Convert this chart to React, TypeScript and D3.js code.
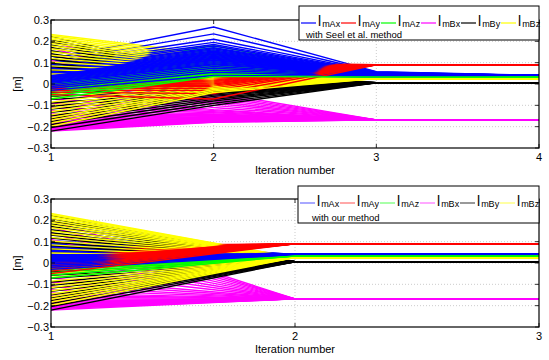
import React from 'react';
import * as d3 from 'd3';

// series order as in the legend
const seriesNames = ['mAx', 'mAy', 'mAz', 'mBx', 'mBy', 'mBz'];
const seriesColors = ['#0000ff', '#ff0000', '#00ff00', '#ff00ff', '#000000', '#ffff00'];
const legendColorsOurs = ['#6f6fff', '#ff6f6f', '#6fff6f', '#ff6fff', '#555555', '#ffff66'];

// converged values
const finalValues = [0.04, 0.09, 0.033, -0.168, 0.006, 0.025];

// starting values (iteration 1), shared by both runs
const initBlue = [0.118, 0.105, 0.097, 0.09, 0.084, 0.078, 0.072, 0.068, 0.063, 0.059, 0.055, 0.051, 0.048, 0.045, 0.042, 0.039, 0.036, 0.033, 0.03, 0.027, 0.023, 0.02, 0.016, 0.012, 0.008, 0.003, -0.004, -0.012, -0.02, -0.03];
const initRed = [0.08, 0.074, 0.068, 0.063, 0.058, 0.054, 0.05, 0.046, 0.043, 0.04, 0.037, 0.034, 0.031, 0.028, 0.025, 0.022, 0.019, 0.016, 0.013, 0.01, 0.006, 0.002, -0.002, -0.006, -0.011, -0.016, -0.022, -0.03, -0.038, -0.05];
const initGreen = [0.1, 0.092, 0.085, 0.079, 0.073, 0.068, 0.063, 0.058, 0.054, 0.05, 0.046, 0.042, 0.038, 0.034, 0.03, 0.026, 0.022, 0.018, 0.014, 0.01, 0.005, 0.0, -0.005, -0.011, -0.018, -0.026, -0.035, -0.045, -0.056, -0.07];
const initMagenta = [0.2, 0.17, 0.14, 0.11, 0.08, 0.05, 0.02, -0.01, -0.04, -0.07, -0.09, -0.11, -0.125, -0.14, -0.15, -0.16, -0.168, -0.175, -0.18, -0.185, -0.19, -0.194, -0.197, -0.2, -0.203, -0.206, -0.209, -0.212, -0.215, -0.22];
const initBlack = [0.222, 0.208, 0.197, 0.183, 0.171, 0.156, 0.142, 0.131, 0.117, 0.098, 0.082, 0.066, 0.047, 0.029, 0.012, -0.006, -0.024, -0.041, -0.058, -0.072, -0.089, -0.104, -0.118, -0.133, -0.149, -0.162, -0.176, -0.19, -0.204, -0.221];
const initYellow = [0.232, 0.226, 0.218, 0.21, 0.2, 0.19, 0.178, 0.165, 0.15, 0.135, 0.12, 0.103, 0.085, 0.066, 0.047, 0.028, 0.008, -0.012, -0.032, -0.05, -0.068, -0.085, -0.1, -0.115, -0.13, -0.145, -0.158, -0.17, -0.183, -0.198];

// Seel et al.: iteration 2 values
const seelBlue2 = [0.267, 0.235, 0.21, 0.195, 0.185, 0.178, 0.17, 0.165, 0.16, 0.155, 0.15, 0.146, 0.142, 0.138, 0.134, 0.13, 0.126, 0.122, 0.118, 0.114, 0.11, 0.105, 0.1, 0.095, 0.09, 0.082, 0.074, 0.065, 0.055, 0.04];
const seelRed2 = [0.1, 0.095, 0.09, 0.085, 0.08, 0.075, 0.07, 0.066, 0.062, 0.058, 0.054, 0.05, 0.046, 0.042, 0.038, 0.034, 0.03, 0.026, 0.022, 0.018, 0.014, 0.01, 0.005, 0.0, -0.006, -0.012, -0.02, -0.03, -0.045, -0.07];
const seelGreen2 = [0.18, 0.17, 0.16, 0.152, 0.145, 0.139, 0.133, 0.128, 0.123, 0.118, 0.113, 0.108, 0.104, 0.1, 0.096, 0.092, 0.088, 0.084, 0.08, 0.076, 0.072, 0.068, 0.064, 0.06, 0.056, 0.052, 0.048, 0.044, 0.04, 0.035];
const seelMagenta2 = [-0.04, -0.05, -0.06, -0.07, -0.08, -0.09, -0.1, -0.11, -0.12, -0.125, -0.13, -0.135, -0.14, -0.143, -0.146, -0.149, -0.152, -0.155, -0.158, -0.16, -0.162, -0.164, -0.166, -0.168, -0.17, -0.172, -0.174, -0.176, -0.178, -0.18];
const seelBlack2 = [0.05, 0.045, 0.04, 0.036, 0.032, 0.028, 0.024, 0.02, 0.016, 0.012, 0.008, 0.004, 0.0, -0.004, -0.008, -0.012, -0.016, -0.02, -0.025, -0.03, -0.035, -0.04, -0.046, -0.052, -0.058, -0.065, -0.072, -0.08, -0.09, -0.1];
const seelYellow2 = [0.14, 0.13, 0.12, 0.112, 0.104, 0.096, 0.089, 0.082, 0.075, 0.069, 0.063, 0.057, 0.051, 0.046, 0.041, 0.036, 0.031, 0.026, 0.021, 0.016, 0.011, 0.006, 0.001, -0.004, -0.009, -0.014, -0.02, -0.026, -0.033, -0.04];
// Seel et al.: blue is still spread a little at iteration 3
const seelBlue3 = [0.058, 0.056, 0.055, 0.054, 0.053, 0.052, 0.051, 0.05, 0.049, 0.048, 0.047, 0.047, 0.046, 0.045, 0.045, 0.044, 0.043, 0.043, 0.042, 0.042, 0.041, 0.04, 0.04, 0.039, 0.039, 0.038, 0.037, 0.036, 0.035, 0.034];

const yTicks = [-0.3, -0.2, -0.1, 0, 0.1, 0.2, 0.3];
const seelIterations = [1, 2, 3, 4];
const ourIterations = [1, 2, 3];

const inits = [initBlue, initRed, initGreen, initMagenta, initBlack, initYellow];
const seel2 = [seelBlue2, seelRed2, seelGreen2, seelMagenta2, seelBlack2, seelYellow2];

type Line = { color: string; values: number[] };

function seelLines(): Line[] {
  const out: Line[] = [];
  for (let i = 0; i < initBlue.length; i++) {
    seriesColors.forEach((c, s) => {
      const f = finalValues[s];
      const v3 = s === 0 ? seelBlue3[i] : f;
      out.push({ color: c, values: [inits[s][i], seel2[s][i], v3, f] });
    });
  }
  return out;
}

function ourLines(): Line[] {
  const out: Line[] = [];
  for (let i = 0; i < initBlue.length; i++) {
    seriesColors.forEach((c, s) => {
      const f = finalValues[s];
      out.push({ color: c, values: [inits[s][i], f, f] });
    });
  }
  return out;
}

const fmt = d3.format('.1f');
const tickLabel = (v: number) => (v === 0 ? '0' : fmt(v));

function Panel({ top, iterations, lines, legendText, legendColors, legendBox, textInset }: {
  top: number;
  iterations: number[];
  lines: Line[];
  legendText: string;
  legendColors: string[];
  legendBox: { x: number; y: number; w: number; h: number };
  textInset: number;
}) {
  const left = 51, right = 539, bottom = top + 128;
  const x = d3.scaleLinear().domain(d3.extent(iterations) as [number, number]).range([left, right]);
  const y = d3.scaleLinear().domain([-0.3, 0.3]).range([bottom, top]);
  const line = d3.line<number>().x((_, i) => x(iterations[i])).y((d) => y(d));
  const font = 'Liberation Sans, Arial, sans-serif';
  const ly = legendBox.y + 17;

  return (
    <g fontFamily={font}>
      {/* grid */}
      {yTicks.slice(1, -1).map((t) => (
        <line key={'gy' + t} x1={left} x2={right} y1={y(t)} y2={y(t)} stroke="#aaa" strokeWidth={0.6} strokeDasharray="1,2" />
      ))}
      {iterations.slice(1, -1).map((t) => (
        <line key={'gx' + t} x1={x(t)} x2={x(t)} y1={top} y2={bottom} stroke="#aaa" strokeWidth={0.6} strokeDasharray="1,2" />
      ))}
      {/* data */}
      {lines.map((l, i) => (
        <path key={i} d={line(l.values) || ''} fill="none" stroke={l.color} strokeWidth={1.4} />
      ))}
      {/* box + ticks */}
      <rect x={left} y={top} width={right - left} height={bottom - top} fill="none" stroke="#000" strokeWidth={1.2} />
      {yTicks.map((t) => (
        <g key={'ty' + t}>
          <line x1={left} x2={left + 4} y1={y(t)} y2={y(t)} stroke="#000" strokeWidth={0.8} />
          <line x1={right - 4} x2={right} y1={y(t)} y2={y(t)} stroke="#000" strokeWidth={0.8} />
          <text x={left - 2} y={y(t) + 4} fontSize={11} textAnchor="end">{tickLabel(t)}</text>
        </g>
      ))}
      {iterations.map((t) => (
        <g key={'tx' + t}>
          <line x1={x(t)} x2={x(t)} y1={bottom} y2={bottom - 4} stroke="#000" strokeWidth={0.8} />
          <line x1={x(t)} x2={x(t)} y1={top} y2={top + 4} stroke="#000" strokeWidth={0.8} />
          <text x={x(t)} y={bottom + 13} fontSize={11} textAnchor="middle">{t}</text>
        </g>
      ))}
      <text x={295} y={bottom + 25.5} fontSize={11} textAnchor="middle">Iteration number</text>
      <text transform={`translate(21,${(top + bottom) / 2}) rotate(-90)`} fontSize={11} textAnchor="middle">[m]</text>
      {/* legend */}
      <rect x={legendBox.x} y={legendBox.y} width={legendBox.w} height={legendBox.h} fill="#fff" stroke="#000" strokeWidth={1} />
      {seriesNames.map((n, i) => {
        const lx = legendBox.x + 2 + i * 40;
        return (
          <g key={n}>
            <line x1={lx} x2={lx + 15} y1={ly} y2={ly} stroke={legendColors[i]} strokeWidth={1.2} />
            <text x={lx + 17} y={ly + 3}>
              <tspan fontSize={14}>l</tspan>
              <tspan fontSize={9} dx={1} dy={1}>{n}</tspan>
            </text>
          </g>
        );
      })}
      <text x={legendBox.x + textInset} y={legendBox.y + legendBox.h - 2.5} fontSize={9.5}>
        {legendText}
      </text>
    </g>
  );
}

export default function App() {
  return (
    <svg width={549} height={360} style={{ position: 'absolute', left: 0, top: 0, background: '#fff' }}>
      <Panel
        top={20}
        iterations={seelIterations}
        lines={seelLines()}
        legendText="with Seel et al. method"
        legendColors={seriesColors}
        legendBox={{ x: 299, y: 6, w: 240, h: 34 }}
        textInset={7}
      />
      <Panel
        top={199}
        iterations={ourIterations}
        lines={ourLines()}
        legendText="with our method"
        legendColors={legendColorsOurs}
        legendBox={{ x: 298, y: 186, w: 241, h: 37 }}
        textInset={14}
      />
    </svg>
  );
}
